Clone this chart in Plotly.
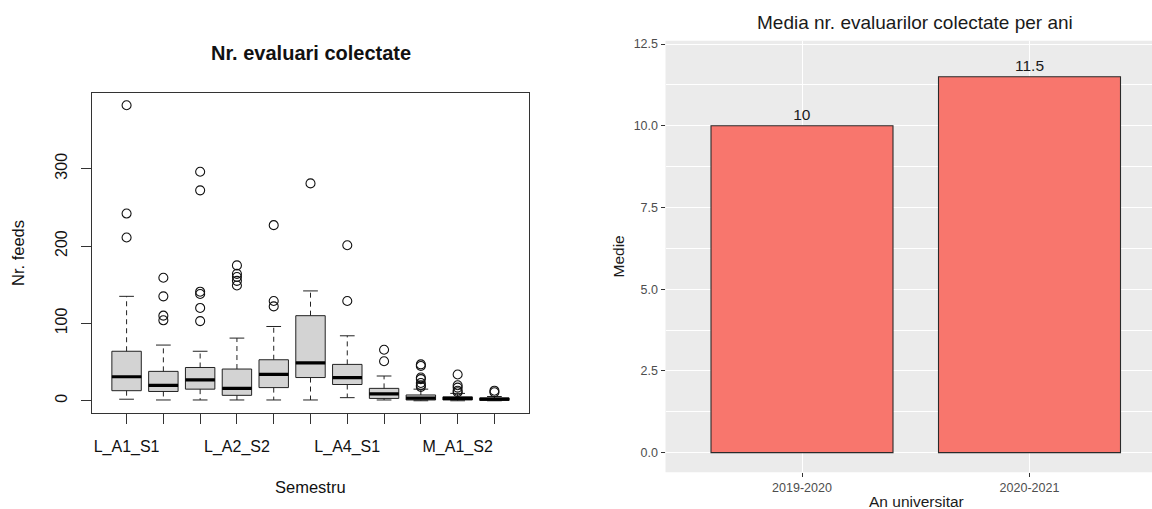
import plotly.graph_objects as go

W, H = 1152, 509

# ---- Left chart data (boxplot statistics) ----
semestre = ["L_A1_S1", "L_A1_S2", "L_A2_S1", "L_A2_S2", "L_A3_S1", "L_A3_S2",
            "L_A4_S1", "L_A4_S2", "M_A1_S1", "M_A1_S2", "M_A2_S1"]
lower = [2, 1, 1, 1, 1, 1, 4, 1, 0, 0, 0]
q1 = [13, 12, 15, 7, 17, 30, 21, 3, 1, 1, 0.5]
median = [31, 20, 27, 16, 34, 49, 30, 9, 3.5, 3, 2]
q3 = [64, 38, 43, 41, 53, 110, 47, 16, 7.5, 5, 3.5]
upper = [135, 72, 64, 81, 96, 142, 84, 32, 15, 9.5, 5.5]
outliers = [[211, 242, 382], [104, 110, 135, 159], [103, 120, 138, 141, 272, 296],
            [149, 155, 160, 164, 175], [122, 129, 227], [281], [129, 201], [51, 66],
            [18, 20, 23, 28, 30, 45, 47], [11, 13, 17, 20, 34], [11, 13]]
y_ticks_left = [0, 100, 200, 300]

# ---- Right chart data ----
ani = ["2019-2020", "2020-2021"]
medie = [10, 11.5]
medie_labels = ["10", "11.5"]
y_ticks_right = [0.0, 2.5, 5.0, 7.5, 10.0, 12.5]


def px_x(p):
    return p / W


def px_y(p):
    return 1 - p / H


FONT = "Liberation Sans, Arial, Helvetica, sans-serif"
n = len(semestre)
pos = list(range(1, n + 1))
box_w = 0.8
cap_w = 0.4

fig = go.Figure()

# boxes
fig.add_trace(go.Box(
    x=pos, q1=q1, median=median, q3=q3, lowerfence=q1, upperfence=q3,
    width=box_w, whiskerwidth=0, boxpoints=False,
    fillcolor="#D3D3D3", line=dict(color="#222222", width=1),
    xaxis="x", yaxis="y", showlegend=False, hoverinfo="skip"))

# whiskers (dashed), caps, medians
wx, wy = [], []
cx, cy = [], []
mx, my = [], []
for p, lo, a, m, b, hi in zip(pos, lower, q1, median, q3, upper):
    wx += [p, p, None, p, p, None]
    wy += [b, hi, None, a, lo, None]
    cx += [p - cap_w / 2, p + cap_w / 2, None, p - cap_w / 2, p + cap_w / 2, None]
    cy += [hi, hi, None, lo, lo, None]
    mx += [p - box_w / 2, p + box_w / 2, None]
    my += [m, m, None]

fig.add_trace(go.Scatter(x=wx, y=wy, mode="lines",
                         line=dict(color="#222222", width=1, dash="5px,4px"),
                         xaxis="x", yaxis="y", showlegend=False, hoverinfo="skip"))
fig.add_trace(go.Scatter(x=cx, y=cy, mode="lines",
                         line=dict(color="#222222", width=1),
                         xaxis="x", yaxis="y", showlegend=False, hoverinfo="skip"))
fig.add_trace(go.Scatter(x=mx, y=my, mode="lines",
                         line=dict(color="#000000", width=3.2),
                         xaxis="x", yaxis="y", showlegend=False, hoverinfo="skip"))

ox, oy = [], []
for p, outs in zip(pos, outliers):
    ox += [p] * len(outs)
    oy += outs
fig.add_trace(go.Scatter(x=ox, y=oy, mode="markers",
                         marker=dict(symbol="circle-open", size=9, color="#111111",
                                     line=dict(width=1.1, color="#111111")),
                         xaxis="x", yaxis="y", showlegend=False, hoverinfo="skip"))

# bars
fig.add_trace(go.Bar(
    x=ani, y=medie, width=0.8, text=medie_labels, textposition="outside",
    textfont=dict(size=15.5, color="#1a1a1a", family=FONT),
    marker=dict(color="#F8766D", line=dict(color="#2a2a2a", width=1.1)),
    cliponaxis=False, xaxis="x2", yaxis="y2", showlegend=False, hoverinfo="skip"))

# ranges
all_vals = lower + upper + [v for o in outliers for v in o]
lo_v, hi_v = min(all_vals), max(all_vals)
pad = 0.04 * (hi_v - lo_v)
x_pad = 0.04 * n

left_x0, left_x1 = 92, 529
left_y0, left_y1 = 91, 412
right_x0 = 665.5
right_y0, right_y1 = 38, 472

tick_text = [s if i % 3 == 0 else "" for i, s in enumerate(semestre)]

fig.update_layout(
    width=W, height=H,
    margin=dict(l=0, r=0, t=0, b=0),
    paper_bgcolor="white", plot_bgcolor="rgba(0,0,0,0)",
    font=dict(family=FONT),
    bargap=0.2,
    xaxis=dict(domain=[px_x(left_x0), px_x(left_x1)], anchor="y",
               range=[0.5 - x_pad, n + 0.5 + x_pad],
               tickmode="array", tickvals=pos, ticktext=tick_text,
               ticks="outside", ticklen=10, tickcolor="#333333", tickwidth=1,
               tickfont=dict(size=16, color="#111111"),
               ticklabelstandoff=9,
               showline=True, linecolor="#333333", linewidth=1, mirror=True,
               showgrid=False, zeroline=False),
    yaxis=dict(domain=[px_y(left_y1), px_y(left_y0)], anchor="x",
               range=[lo_v - pad, hi_v + pad],
               tickmode="array", tickvals=y_ticks_left,
               ticktext=[str(v) for v in y_ticks_left],
               tickangle=-90,
               ticks="outside", ticklen=10, tickcolor="#333333", tickwidth=1,
               tickfont=dict(size=16, color="#111111"),
               ticklabelstandoff=8,
               showline=True, linecolor="#333333", linewidth=1, mirror=True,
               showgrid=False, zeroline=False),
    xaxis2=dict(domain=[px_x(right_x0), 1.0], anchor="y2",
                type="category", categoryorder="array", categoryarray=ani,
                range=[-0.6, (W - 802) / 227.5],
                ticks="outside", ticklen=4, tickcolor="#333333", tickwidth=1,
                tickfont=dict(size=12.5, color="#4D4D4D"),
                showgrid=True, gridcolor="white", gridwidth=1.1,
                showline=False, zeroline=False),
    yaxis2=dict(domain=[px_y(right_y1), px_y(right_y0)], anchor="x2",
                range=[-0.6, 12.6],
                tickmode="array", tickvals=y_ticks_right,
                ticktext=[f"{v:.1f}" for v in y_ticks_right],
                ticks="outside", ticklen=4, tickcolor="#333333", tickwidth=1,
                tickfont=dict(size=12.5, color="#4D4D4D"),
                showgrid=True, gridcolor="white", gridwidth=1.1,
                minor=dict(tickvals=[1.25, 3.75, 6.25, 8.75, 11.25], showgrid=True,
                           gridcolor="white", gridwidth=0.5, ticks=""),
                showline=False, zeroline=False),
    shapes=[dict(type="rect", xref="x2 domain", yref="y2 domain", x0=0, x1=1, y0=0, y1=1,
                 fillcolor="#EBEBEB", line=dict(width=0), layer="below")],
    annotations=[
        dict(text="<b>Nr. evaluari colectate</b>", x=px_x(310.5), y=px_y(50),
             xref="paper", yref="paper", showarrow=False, xanchor="center", yanchor="middle",
             font=dict(size=20, color="#111111", family=FONT)),
        dict(text="Semestru", x=px_x(310.5), y=px_y(487),
             xref="paper", yref="paper", showarrow=False, xanchor="center", yanchor="middle",
             font=dict(size=16.5, color="#111111", family=FONT)),
        dict(text="Nr. feeds", x=px_x(18), y=px_y(251.5), textangle=-90,
             xref="paper", yref="paper", showarrow=False, xanchor="center", yanchor="middle",
             font=dict(size=16.5, color="#111111", family=FONT)),
        dict(text="Media nr. evaluarilor colectate per ani", x=px_x(915), y=px_y(20),
             xref="paper", yref="paper", showarrow=False, xanchor="center", yanchor="middle",
             font=dict(size=19, color="#1a1a1a", family=FONT)),
        dict(text="An universitar", x=px_x(916), y=px_y(501),
             xref="paper", yref="paper", showarrow=False, xanchor="center", yanchor="middle",
             font=dict(size=15.5, color="#1a1a1a", family=FONT)),
        dict(text="Medie", x=px_x(618), y=px_y(255), textangle=-90,
             xref="paper", yref="paper", showarrow=False, xanchor="center", yanchor="middle",
             font=dict(size=15.5, color="#1a1a1a", family=FONT)),
    ],
)

fig.write_html("out.html",
               config={"displayModeBar": False},
               post_script="document.body.style.margin='0px';document.body.style.overflow='hidden';")
